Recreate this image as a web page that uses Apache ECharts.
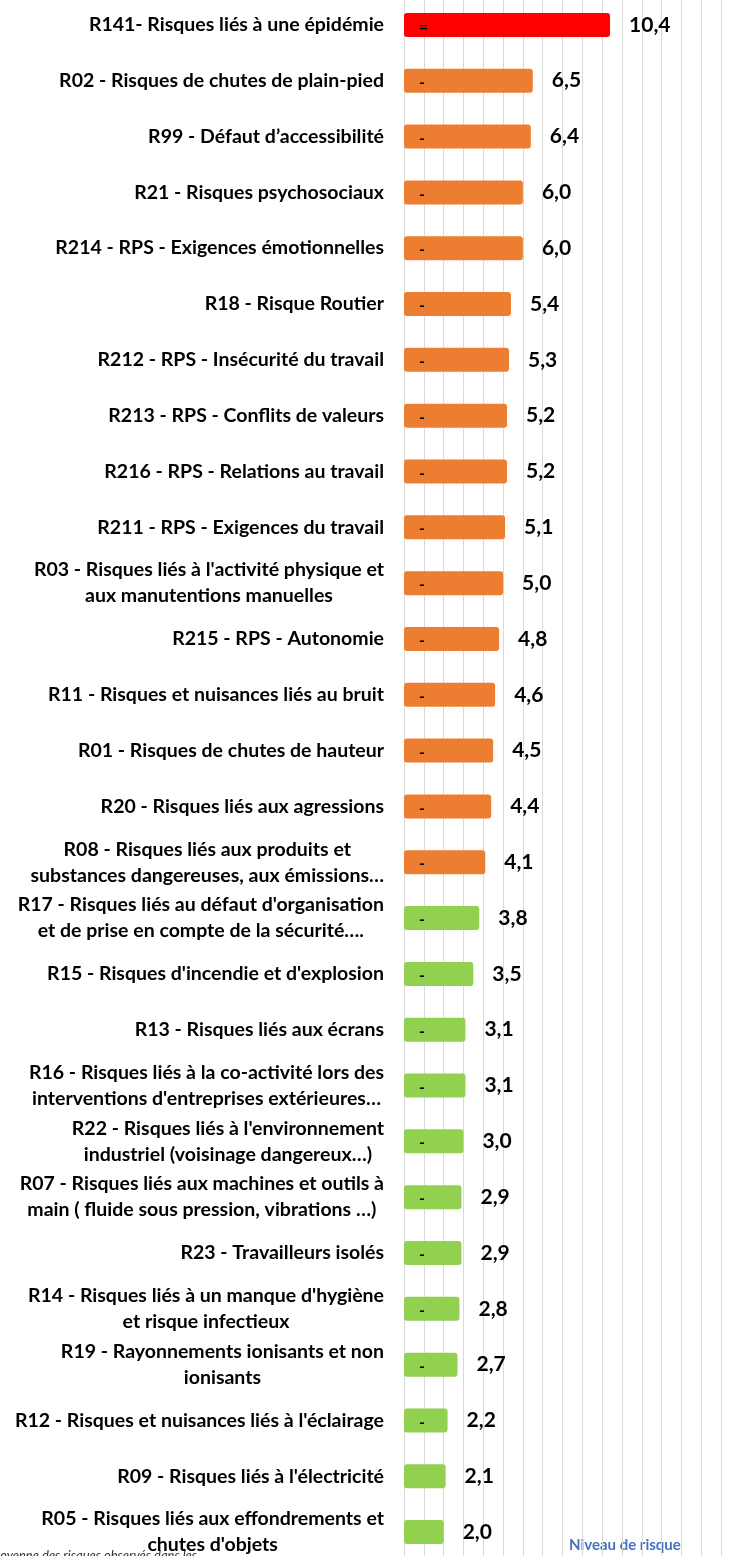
<!DOCTYPE html>
<html>
<head>
<meta charset="utf-8">
<script src="https://cdn.jsdelivr.net/npm/echarts@6/dist/echarts.min.js"></script>
<style>
  html, body { margin: 0; padding: 0; background: #fff; }
  #chart { width: 733px; height: 1556px; }
</style>
</head>
<body>
<div id="chart"></div>
<script>
// catégories de risques (du plus haut au plus bas)
const categories = [
  'R141- Risques liés à une épidémie',
  'R02 - Risques de chutes de plain-pied',
  'R99 - Défaut d’accessibilité',
  'R21 - Risques psychosociaux',
  'R214 - RPS - Exigences émotionnelles',
  'R18 - Risque Routier',
  'R212 - RPS - Insécurité du travail',
  'R213 - RPS - Conflits de valeurs',
  'R216 - RPS - Relations au travail',
  'R211 - RPS - Exigences du travail',
  "R03 - Risques liés à l'activité physique et\naux manutentions manuelles",
  'R215 - RPS - Autonomie',
  'R11 - Risques et nuisances liés au bruit',
  'R01 - Risques de chutes de hauteur',
  'R20 - Risques liés aux agressions',
  'R08 - Risques liés aux produits et\nsubstances dangereuses, aux émissions…',
  "R17 - Risques liés au défaut d'organisation\net de prise en compte de la sécurité….",
  "R15 - Risques d'incendie et d'explosion",
  'R13 - Risques liés aux écrans',
  "R16 - Risques liés à la co-activité lors des\ninterventions d'entreprises extérieures…",
  "R22 - Risques liés à l'environnement\nindustriel (voisinage dangereux…)",
  'R07 - Risques liés aux machines et outils à\nmain ( fluide sous pression, vibrations …)',
  'R23 - Travailleurs isolés',
  "R14 - Risques liés à un manque d'hygiène\net risque infectieux",
  'R19 - Rayonnements ionisants et non\nionisants',
  "R12 - Risques et nuisances liés à l'éclairage",
  "R09 - Risques liés à l'électricité",
  'R05 - Risques liés aux effondrements et\nchutes d\'objets'
]

// niveau de risque
const values = [10.4, 6.5, 6.4, 6.0, 6.0, 5.4, 5.3, 5.2, 5.2, 5.1, 5.0, 4.8, 4.6, 4.5, 4.4, 4.1,
  3.8, 3.5, 3.1, 3.1, 3.0, 2.9, 2.9, 2.8, 2.7, 2.2, 2.1, 2.0]

// niveau : 0 = rouge, 1 = orange, 2 = vert
const levels = [0, 1, 1, 1, 1, 1, 1, 1, 1, 1, 1, 1, 1, 1, 1, 1,
  2, 2, 2, 2, 2, 2, 2, 2, 2, 2, 2, 2]

// petites marques dans les barres
const marks = ['=', '-', '-', '-', '-', '-', '-', '-', '-', '-', '-', '-', '-', '-', '-', '-',
  '-', '-', '-', '-', '-', '-', '-', '-', '-', '-', '', '']

const levelColors = ['#ff0000', '#ed7d31', '#92d050']

const chart = echarts.init(document.getElementById('chart'))

const fontFamily = 'Lato, "Open Sans", sans-serif'

const option = {
  animation: false,
  grid: {
    left: 404,
    right: 12,
    top: -3,
    bottom: -4,
    containLabel: false,
    outerBoundsMode: 'none'
  },
  xAxis: {
    type: 'value',
    min: 0,
    max: 16,
    interval: 1,
    axisLabel: { show: false },
    axisLine: { show: false },
    axisTick: { show: false },
    splitLine: { show: true, lineStyle: { color: '#d9d9d9', width: 1 } }
  },
  yAxis: {
    type: 'category',
    inverse: true,
    data: categories,
    axisLine: { show: true, lineStyle: { color: '#d9d9d9' } },
    axisTick: { show: false },
    axisLabel: {
      margin: 20,
      formatter: (v) => v.split('\n').map(l => '{c|' + l + '}').join('\n'),
      rich: {
        c: {
          align: 'center',
          fontFamily: fontFamily,
          fontWeight: 'bold',
          fontSize: 19.5,
          lineHeight: 26,
          color: '#000'
        }
      }
    }
  },
  series: [
    {
      type: 'bar',
      barWidth: 24,
      data: values.map((v, i) => ({
        value: v,
        itemStyle: { color: levelColors[levels[i]], borderRadius: 3 }
      })),
      label: {
        show: true,
        position: 'right',
        distance: 19,
        formatter: (p) => p.value.toFixed(1).replace('.', ','),
        fontFamily: fontFamily,
        fontWeight: 'bold',
        fontSize: 21,
        color: '#000'
      },
      z: 2
    },
    {
      type: 'bar',
      barWidth: 24,
      barGap: '-100%',
      silent: true,
      data: values,
      itemStyle: { color: 'rgba(0,0,0,0)' },
      label: {
        show: true,
        position: 'insideLeft',
        distance: 15,
        offset: [0, 2],
        formatter: (p) => marks[p.dataIndex],
        fontFamily: fontFamily,
        fontWeight: 'bold',
        fontSize: 16,
        color: '#000'
      },
      z: 3
    }
  ],
  graphic: [
    {
      type: 'text',
      left: 569,
      top: 1538,
      style: {
        text: 'Niveau de risque',
        fontFamily: fontFamily,
        fontWeight: 'bold',
        fontSize: 15,
        fill: '#4472c4'
      }
    },
    {
      type: 'text',
      right: 536,
      top: 1549,
      z: -1,
      style: {
        text: 'Moyenne des risques observés dans les',
        fontFamily: fontFamily,
        fontStyle: 'italic',
        fontSize: 13,
        fill: '#333'
      }
    }
  ]
}

chart.setOption(option)
</script>
</body>
</html>
